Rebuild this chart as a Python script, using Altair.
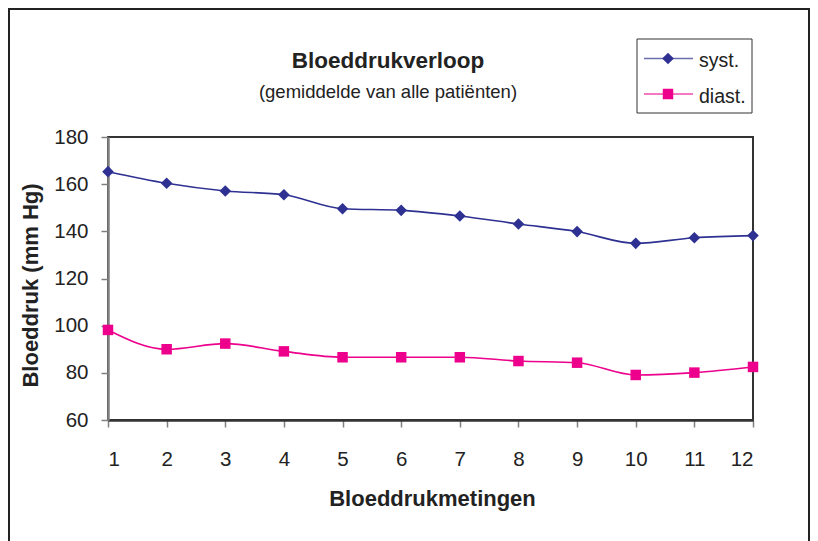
import altair as alt
import pandas as pd

# ---- data ----
metingen = list(range(1, 13))
syst = [165.3, 160.4, 157.1, 155.5, 149.6, 148.9, 146.5, 143.1, 139.9, 134.9, 137.3, 138.2]
diast = [98.2, 90.0, 92.4, 89.1, 86.6, 86.6, 86.6, 85.0, 84.3, 79.1, 80.1, 82.5]
series = ["syst.", "diast."]
colors = ["#2E3192", "#EC008C"]
shapes = ["diamond", "square"]
sizes = [135, 110]
y_ticks = [60, 80, 100, 120, 140, 160, 180]

title = "Bloeddrukverloop"
subtitle = "(gemiddelde van alle patiënten)"
x_title = "Bloeddrukmetingen"
y_title = "Bloeddruk (mm Hg)"

df = pd.DataFrame({
    "meting": metingen * 2,
    "waarde": syst + diast,
    "reeks": [series[0]] * len(metingen) + [series[1]] * len(metingen),
})

FONT = "Liberation Sans"
TXT = "#222222"

x_enc = alt.X("meting:Q",
              scale=alt.Scale(domain=[1, 12], nice=False, zero=False),
              axis=alt.Axis(values=metingen, title=x_title, format="d",
                            titleX=324, titleY=85, titleBaseline="alphabetic",
                            titleAnchor="middle"))
y_enc = alt.Y("waarde:Q",
              scale=alt.Scale(domain=[60, 180], nice=False, zero=False),
              axis=alt.Axis(values=y_ticks, title=y_title,
                            titleX=-71, titleY=148, titleAngle=270,
                            titleBaseline="alphabetic", titleAlign="center"))
color_enc = alt.Color("reeks:N", scale=alt.Scale(domain=series, range=colors), legend=None)

base = alt.Chart(df)
lines = base.mark_line(interpolate="monotone", strokeWidth=1.6).encode(
    x=x_enc, y=y_enc, color=color_enc)
points = base.mark_point(filled=True, opacity=1).encode(
    x="meting:Q", y="waarde:Q", color=color_enc,
    shape=alt.Shape("reeks:N", scale=alt.Scale(domain=series, range=shapes), legend=None),
    size=alt.Size("reeks:N", scale=alt.Scale(domain=series, range=sizes), legend=None),
)

one = pd.DataFrame({"k": [0]})

outer = alt.Chart(one).mark_rect(fill="transparent", stroke="#222222", strokeWidth=2).encode(
    x=alt.value(-99), x2=alt.value(701), y=alt.value(-128), y2=alt.value(520))

title_t = alt.Chart(one).mark_text(text=title, font=FONT, fontSize=22.5, fontWeight="bold",
                                   color=TXT, align="center", baseline="alphabetic").encode(
    x=alt.value(280), y=alt.value(-69))
sub_t = alt.Chart(one).mark_text(text=subtitle, font=FONT, fontSize=18.5,
                                 color=TXT, align="center", baseline="alphabetic").encode(
    x=alt.value(280), y=alt.value(-39))

legend_box = alt.Chart(one).mark_rect(fill="white", stroke="#333333", strokeWidth=1).encode(
    x=alt.value(529), x2=alt.value(644), y=alt.value(-98), y2=alt.value(-24))

legend_layers = [legend_box]
line_y = [-78.5, -43]
text_y = [-70, -34]
for i, name in enumerate(series):
    legend_layers.append(alt.Chart(one).mark_rule(color=colors[i], strokeWidth=1.6, opacity=0.7).encode(
        x=alt.value(536), x2=alt.value(585), y=alt.value(line_y[i])))
    legend_layers.append(alt.Chart(one).mark_point(filled=True, opacity=1, color=colors[i],
                                                   shape=shapes[i], size=sizes[i]).encode(
        x=alt.value(560), y=alt.value(line_y[i])))
    legend_layers.append(alt.Chart(one).mark_text(text=name, font=FONT, fontSize=19.5, color=TXT,
                                                  align="left", baseline="alphabetic").encode(
        x=alt.value(591), y=alt.value(text_y[i])))

chart = alt.layer(outer, lines, points, title_t, sub_t, *legend_layers).properties(
    width=645, height=283,
    autosize=alt.AutoSizeParams(type="none"),
    padding={"left": 100, "top": 129, "right": 57, "bottom": 121},
).configure_view(
    stroke="#333333", strokeWidth=2
).configure_axis(
    grid=False,
    labelFont=FONT, labelFontSize=20.5, labelColor=TXT,
    titleFont=FONT, titleFontSize=22, titleFontWeight="bold", titleColor=TXT,
    tickColor="#808080", tickWidth=1.5, tickSize=7,
).configure_axisY(
    domainColor="#808080", domainWidth=2.5, labelPadding=13,
).configure_axisX(
    domainColor="#333333", domainWidth=2.5, labelPadding=22,
)

chart.save("out.html", embed_options={"renderer": "svg", "actions": False})
